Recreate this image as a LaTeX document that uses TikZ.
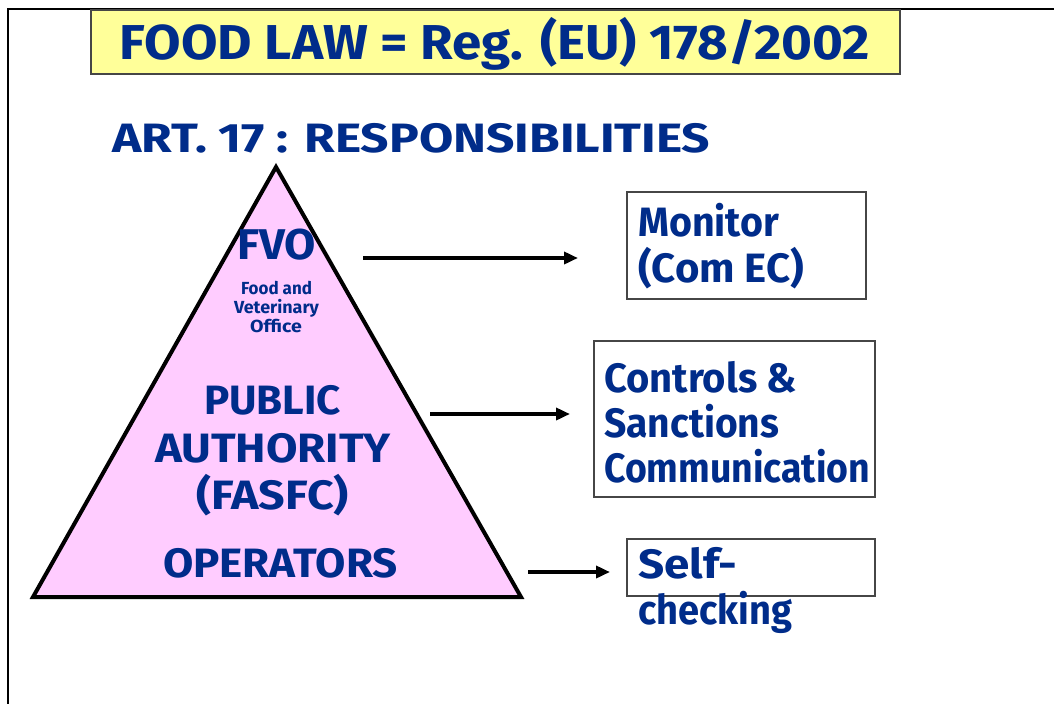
\documentclass[tikz,border=0pt]{standalone}
\usepackage{fontspec}
\setmainfont{Fira Sans}
\usetikzlibrary{arrows.meta}
\definecolor{txtblue}{RGB}{0,44,138}
\definecolor{titlefill}{RGB}{255,255,153}
\definecolor{pyrfill}{RGB}{255,204,255}
\definecolor{boxline}{RGB}{70,70,70}
\newlength\fitwlen
\newcommand\fitw[2]{\settowidth\fitwlen{#2}\pgfmathsetmacro\fitwratio{#1/\fitwlen}\scalebox{\fitwratio}[1]{#2}}
\tikzset{
  lbl/.style={text=txtblue, inner sep=0pt, font=\fontsize{41}{45}\selectfont\bfseries},
  lw/.style={lbl, anchor=base west},
  lc/.style={lbl, anchor=base},
  small/.style={lbl, anchor=base, font=\fontsize{17.5}{19}\selectfont\bfseries},
  rbox/.style={draw=boxline, line width=1.3pt, inner sep=0pt},
  arr/.style={-{Triangle[length=14pt,width=12pt]}, line width=3.5pt},
}
\begin{document}
\begin{tikzpicture}[x=1pt,y=-1pt]
\useasboundingbox (0,0) rectangle (1054,704);
\fill[white] (0,0) rectangle (1054,704);
% frame
\draw[line width=2.5pt] (1054,9) -- (8,9) -- (8,704);
% title
\node[draw=boxline, line width=1.3pt, fill=titlefill, minimum width=809pt, minimum height=64pt, inner sep=0pt] (title) at (495.5,42) {};
\node[lc, font=\fontsize{49}{52}\selectfont\bfseries] (titletxt) at (495,59) {\fitw{750}{FOOD LAW = Reg. (EU) 178/2002}};
% subtitle
\node[lw] (art) at (112,152) {\fitw{598}{ART. 17 : RESPONSIBILITIES}};
% pyramid
\coordinate (apex) at (276,167);
\coordinate (bl) at (33,597);
\coordinate (br) at (521,597);
\draw[fill=pyrfill, line width=4pt, line join=miter] (apex) -- (br) -- (bl) -- cycle;
\node[lc, font=\fontsize{43}{45}\selectfont\bfseries] (fvo) at (276.5,259) {\fitw{79}{FVO}};
\node[small] (fvo1) at (276.5,294) {\fitw{71}{Food and}};
\node[small] (fvo2) at (276.5,313) {\fitw{85}{Veterinary}};
\node[small] (fvo3) at (276,332) {\fitw{52}{Office}};
\node[lc] (pa1) at (272.5,414) {\fitw{137}{PUBLIC}};
\node[lc] (pa2) at (273,462) {\fitw{236}{AUTHORITY}};
\node[lc] (pa3) at (272.5,509) {\fitw{153}{(FASFC)}};
\node[lc] (ops) at (280.5,577) {\fitw{235}{OPERATORS}};
% boxes
\node[rbox, minimum width=239pt, minimum height=107pt] (mon) at (746.5,245.5) {};
\node[rbox, minimum width=281pt, minimum height=156pt] (ctl) at (734.5,419) {};
\node[rbox, minimum width=248pt, minimum height=57pt] (self) at (751,567.5) {};
\node[lw] (mon1) at (638,236) {\fitw{141}{Monitor}};
\node[lw] (mon2) at (638,282) {\fitw{166}{(Com EC)}};
\node[lw] (ctl1) at (604,392) {\fitw{193}{Controls \&}};
\node[lw] (ctl2) at (604,437) {\fitw{175}{Sanctions}};
\node[lw] (ctl3) at (604,482) {\fitw{266}{Communication}};
\node[lw] (self1) at (638,578) {\fitw{99}{Self-}};
\node[lw] (self2) at (638,624) {\fitw{154}{checking}};
% arrows
\coordinate (a1s) at (363,258); \coordinate (a1e) at (578,258);
\coordinate (a2s) at (430,414); \coordinate (a2e) at (570,414);
\coordinate (a3s) at (528,572); \coordinate (a3e) at (610,572);
\draw[arr] (a1s) -- (a1e);
\draw[arr] (a2s) -- (a2e);
\draw[arr] (a3s) -- (a3e);
\end{tikzpicture}
\end{document}
